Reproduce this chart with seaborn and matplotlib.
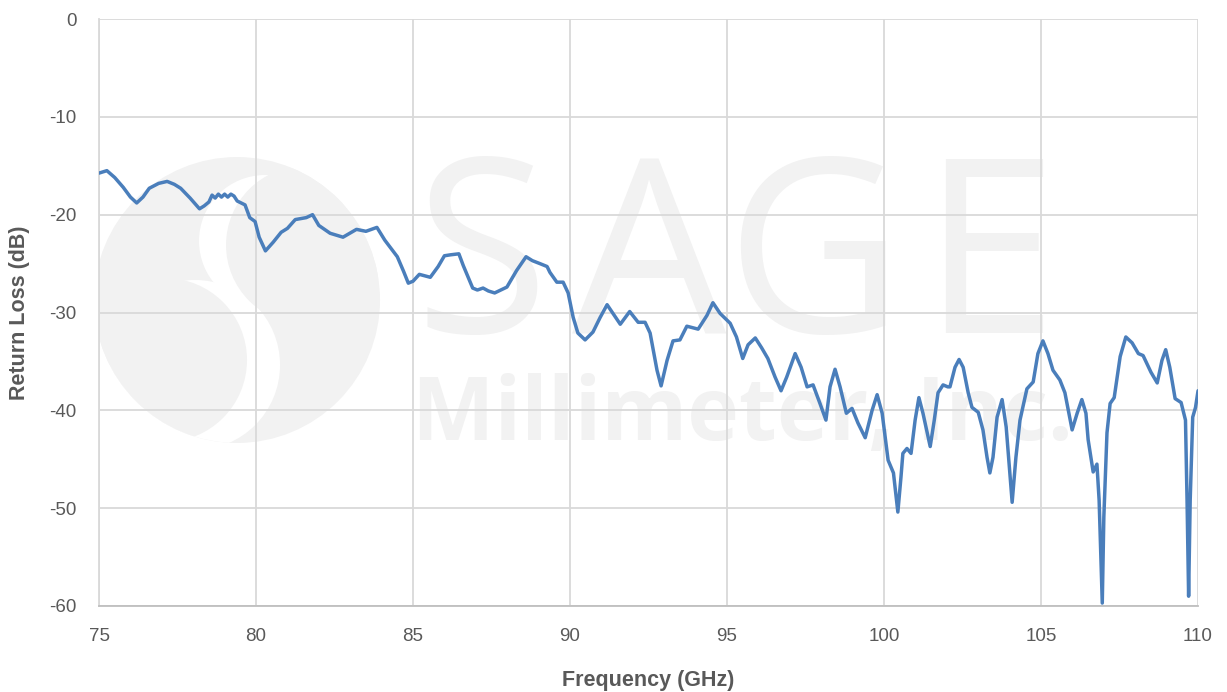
import matplotlib
matplotlib.use("Agg")
import matplotlib.pyplot as plt
from matplotlib.patches import Ellipse
import seaborn as sns

# values
freq_ghz = [75.0, 75.25, 75.5, 75.77, 76.0, 76.2, 76.4, 76.6, 76.9, 77.17, 77.4, 77.6,
            77.9, 78.2, 78.35, 78.5, 78.6, 78.7, 78.8, 78.9, 79.0, 79.1, 79.2, 79.3,
            79.4, 79.65, 79.8, 79.97, 80.1, 80.3, 80.55, 80.8, 81.0, 81.25, 81.6, 81.8,
            82.0, 82.36, 82.77, 83.2, 83.5, 83.85, 84.1, 84.5, 84.7, 84.85, 85.0, 85.2,
            85.55, 85.8, 86.0, 86.2, 86.46, 86.6, 86.9, 87.05, 87.23, 87.4, 87.6, 87.99,
            88.3, 88.6, 88.8, 89.04, 89.27, 89.36, 89.58, 89.78, 89.94, 90.1, 90.25,
            90.48, 90.73, 90.96, 91.18, 91.37, 91.6, 91.9, 92.17, 92.39, 92.55, 92.77,
            92.9, 93.09, 93.28, 93.5, 93.72, 94.08, 94.36, 94.55, 94.78, 95.1, 95.3,
            95.5, 95.67, 95.9, 96.1, 96.3, 96.53, 96.72, 96.9, 97.17, 97.36, 97.55,
            97.74, 97.96, 98.15, 98.28, 98.44, 98.6, 98.8, 98.98, 99.17, 99.4, 99.62,
            99.78, 99.94, 100.13, 100.3, 100.44, 100.54, 100.6, 100.73, 100.86, 100.99,
            101.11, 101.24, 101.47, 101.6, 101.72, 101.88, 102.03, 102.1, 102.26,
            102.39, 102.52, 102.68, 102.8, 103.0, 103.15, 103.28, 103.37, 103.47, 103.6,
            103.76, 103.89, 104.08, 104.2, 104.33, 104.55, 104.75, 104.9, 105.06,
            105.22, 105.38, 105.6, 105.76, 105.99, 106.15, 106.3, 106.43, 106.5, 106.66,
            106.78, 106.85, 106.95, 107.0, 107.1, 107.2, 107.33, 107.52, 107.7, 107.9,
            108.1, 108.25, 108.5, 108.7, 108.85, 108.97, 109.1, 109.27, 109.46, 109.6,
            109.65, 109.7, 109.75, 109.83, 109.92, 110.0]
return_loss_db = [-15.75, -15.5, -16.2, -17.2, -18.2, -18.8, -18.2, -17.3, -16.8, -16.6,
                  -16.9, -17.3, -18.3, -19.4, -19.1, -18.7, -18.0, -18.3, -17.9, -18.2,
                  -17.9, -18.2, -17.9, -18.1, -18.6, -19.0, -20.3, -20.7, -22.3, -23.7,
                  -22.8, -21.8, -21.4, -20.5, -20.3, -20.0, -21.1, -21.9, -22.3, -21.5,
                  -21.7, -21.3, -22.6, -24.3, -25.8, -27.0, -26.8, -26.1, -26.4, -25.3,
                  -24.2, -24.1, -24.0, -25.2, -27.5, -27.7, -27.5, -27.8, -28.0, -27.4,
                  -25.7, -24.3, -24.7, -25.0, -25.3, -25.9, -26.9, -26.9, -28.0, -30.5,
                  -32.1, -32.8, -32.0, -30.5, -29.2, -30.1, -31.2, -29.9, -31.0, -31.0,
                  -32.1, -35.9, -37.5, -34.9, -32.9, -32.8, -31.4, -31.7, -30.3, -29.0,
                  -30.1, -31.1, -32.5, -34.7, -33.3, -32.6, -33.6, -34.7, -36.6, -38.0,
                  -36.6, -34.2, -35.6, -37.6, -37.4, -39.3, -41.0, -37.6, -35.8, -37.6,
                  -40.3, -39.8, -41.3, -42.8, -40.0, -38.4, -40.3, -45.1, -46.4, -50.4,
                  -46.8, -44.4, -43.9, -44.4, -41.0, -38.7, -40.3, -43.7, -41.0, -38.2,
                  -37.4, -37.6, -37.6, -35.6, -34.8, -35.6, -38.2, -39.7, -40.2, -42.0,
                  -44.8, -46.4, -44.8, -40.7, -38.9, -41.7, -49.4, -44.8, -41.0, -37.8,
                  -37.1, -34.2, -32.9, -34.2, -35.9, -36.9, -38.2, -42.0, -40.3, -38.9,
                  -40.3, -43.0, -46.3, -45.5, -49.2, -59.7, -50.9, -42.3, -39.3, -38.7,
                  -34.5, -32.5, -33.1, -34.2, -34.4, -36.1, -37.2, -34.9, -33.8, -35.6,
                  -38.8, -39.2, -41.0, -49.2, -59.0, -49.2, -40.7, -39.7, -38.0]

x_ticks = [75, 80, 85, 90, 95, 100, 105, 110]
y_ticks = [0, -10, -20, -30, -40, -50, -60]

sns.set_style("white")
plt.rcParams['font.family'] = ['Liberation Sans', 'DejaVu Sans']
plt.rcParams['axes.unicode_minus'] = False

fig = plt.figure(figsize=(12.27, 6.92), dpi=100)
ax = fig.add_axes([0.0807, 0.1243, 0.8957, 0.8482])

# faint watermark (logo circles given in figure pixels)
wm = '#f2f2f2'


def px_circle(cx, cy, r, color, clip=None):
    e = Ellipse(((cx - 99) / 1099, 1 - (cy - 19) / 587), 2 * r / 1099, 2 * r / 587,
                transform=ax.transAxes, color=color, ec='none', zorder=0)
    ax.add_patch(e)
    if clip is not None:
        e.set_clip_path(clip)
    return e


logo = px_circle(237, 300, 143, wm)
px_circle(195, 365, 85, 'white', logo)
px_circle(165, 360, 82, wm, logo)
px_circle(265, 241, 66, 'white', logo)
px_circle(305, 245, 79, wm, logo)

for letter, x0 in zip("SAGE", [0.287, 0.43, 0.57, 0.748]):
    ax.text(x0, 0.465, letter, transform=ax.transAxes, fontsize=176, color=wm,
            ha='left', va='baseline', fontweight='normal', zorder=0, family='Open Sans')
ax.text(0.285, 0.283, "Millimeter, Inc.", transform=ax.transAxes, fontsize=63,
        color=wm, ha='left', va='baseline', fontweight='bold', zorder=0,
        family='Open Sans')

sns.lineplot(x=freq_ghz, y=return_loss_db, ax=ax, color='#4a7ebb', linewidth=2.5,
             zorder=3)

ax.set_xlim(75, 110)
ax.set_ylim(-60, 0)
ax.set_xticks(x_ticks)
ax.set_yticks(y_ticks)
ax.grid(True, color='#d9d9d9', linewidth=1.3, zorder=1)
ax.set_axisbelow(True)
for side in ['top', 'right']:
    ax.spines[side].set_visible(False)
ax.spines['left'].set_color('#d9d9d9')
ax.spines['left'].set_linewidth(1.3)
ax.spines['bottom'].set_color('#bfbfbf')
ax.spines['bottom'].set_linewidth(1.3)
ax.tick_params(axis='both', length=0, labelsize=13.5, labelcolor='#595959')
ax.tick_params(axis='y', pad=16)
ax.tick_params(axis='x', pad=16)

ax.set_xlabel("Frequency (GHz)", fontsize=15.5, fontweight='bold', color='#595959',
              labelpad=18)
ax.set_ylabel("Return Loss (dB)", fontsize=15.5, fontweight='bold', color='#595959',
              labelpad=14)

fig.savefig("out.png", dpi=100)
